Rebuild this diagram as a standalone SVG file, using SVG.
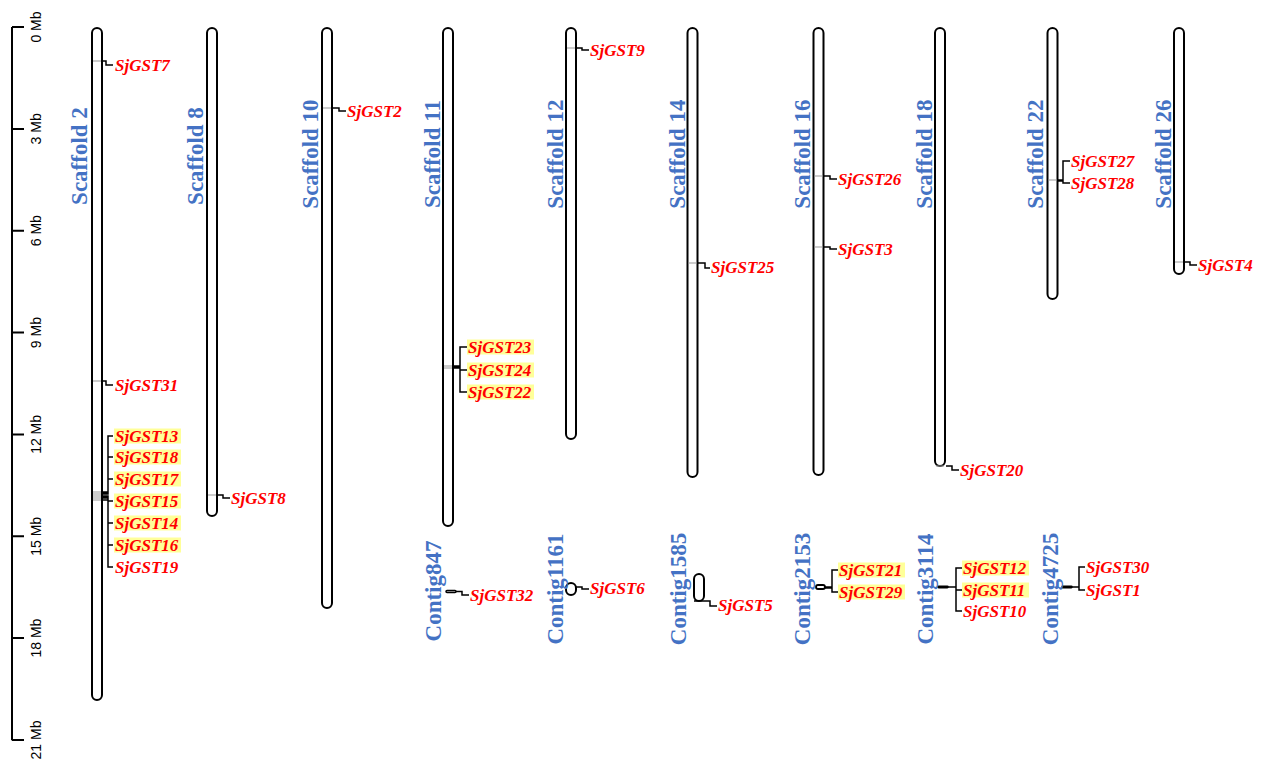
<svg xmlns="http://www.w3.org/2000/svg" width="1262" height="761" viewBox="0 0 1262 761">
<style>
.bg{fill:#fff}
.chr{fill:#fff;stroke:#000;stroke-width:2}
.gl{stroke:#999;stroke-width:1}
.cn{fill:none;stroke:#000;stroke-width:1.5}
.ax{fill:none;stroke:#000;stroke-width:2}
.gene{font-family:"Liberation Serif","Times New Roman",serif;font-size:17px;font-weight:bold;font-style:italic;fill:#FF0000}
.hl{fill:#FFFF99}
.lab{font-family:"Liberation Serif","Times New Roman",serif;font-size:23px;font-weight:bold;fill:#4472C4;text-anchor:middle}
.sc{font-family:"Liberation Sans",Arial,sans-serif;font-size:14px;fill:#000;text-anchor:middle}
</style>
<rect class="bg" x="0" y="0" width="1262" height="761"/>
<g id="scale">
<path class="ax" d="M12,27V740.3M12,27H24M12,128.9H24M12,230.7H24M12,332.6H24M12,434.4H24M12,536.3H24M12,638.1H24M12,740H24"/>
<text class="sc" transform="translate(41,27) rotate(-90)">0 Mb</text>
<text class="sc" transform="translate(41,128.9) rotate(-90)">3 Mb</text>
<text class="sc" transform="translate(41,230.7) rotate(-90)">6 Mb</text>
<text class="sc" transform="translate(41,332.6) rotate(-90)">9 Mb</text>
<text class="sc" transform="translate(41,434.4) rotate(-90)">12 Mb</text>
<text class="sc" transform="translate(41,536.3) rotate(-90)">15 Mb</text>
<text class="sc" transform="translate(41,638.1) rotate(-90)">18 Mb</text>
<text class="sc" transform="translate(41,740) rotate(-90)">21 Mb</text>
</g>
<g id="scaffold2"><rect class="chr" x="92" y="28" width="10" height="672" rx="5"/><text class="lab" transform="translate(87,156) rotate(-90)">Scaffold 2</text></g>
<g id="scaffold8"><rect class="chr" x="207" y="28" width="10" height="488" rx="5"/><text class="lab" transform="translate(203,156) rotate(-90)">Scaffold 8</text></g>
<g id="scaffold10"><rect class="chr" x="322" y="28" width="10" height="580" rx="5"/><text class="lab" transform="translate(318,154) rotate(-90)">Scaffold 10</text></g>
<g id="scaffold11"><rect class="chr" x="443" y="28" width="10" height="498" rx="5"/><text class="lab" transform="translate(440,154) rotate(-90)">Scaffold 11</text></g>
<g id="scaffold12"><rect class="chr" x="566" y="28" width="10" height="411" rx="5"/><text class="lab" transform="translate(563,154) rotate(-90)">Scaffold 12</text></g>
<g id="scaffold14"><rect class="chr" x="687.5" y="28" width="10" height="449" rx="5"/><text class="lab" transform="translate(685,154) rotate(-90)">Scaffold 14</text></g>
<g id="scaffold16"><rect class="chr" x="813.5" y="28" width="10" height="447" rx="5"/><text class="lab" transform="translate(810,154) rotate(-90)">Scaffold 16</text></g>
<g id="scaffold18"><rect class="chr" x="935" y="28" width="10" height="438" rx="5"/><text class="lab" transform="translate(932,154) rotate(-90)">Scaffold 18</text></g>
<g id="scaffold22"><rect class="chr" x="1047.5" y="28" width="10" height="271" rx="5"/><text class="lab" transform="translate(1043,154) rotate(-90)">Scaffold 22</text></g>
<g id="scaffold26"><rect class="chr" x="1174" y="28" width="10" height="246" rx="5"/><text class="lab" transform="translate(1171,154) rotate(-90)">Scaffold 26</text></g>
<g id="contig847"><rect class="chr" x="446" y="590.5" width="10" height="2" rx="1" style="stroke-width:1.5"/><text class="lab" transform="translate(441,591) rotate(-90)">Contig847</text></g>
<g id="contig1161"><rect class="chr" x="566" y="583" width="10" height="12" rx="5"/><text class="lab" transform="translate(563,589) rotate(-90)">Contig1161</text></g>
<g id="contig1585"><rect class="chr" x="694" y="574" width="10" height="27" rx="5"/><text class="lab" transform="translate(686,589) rotate(-90)">Contig1585</text></g>
<g id="contig2153"><rect class="chr" x="816" y="585" width="9" height="4" rx="2" style="stroke-width:1.8"/><text class="lab" transform="translate(810,589) rotate(-90)">Contig2153</text></g>
<g id="contig3114"><rect class="chr" x="938" y="586.3" width="10" height="1.4" rx="0.7" style="stroke-width:1.5"/><text class="lab" transform="translate(933,589) rotate(-90)">Contig3114</text></g>
<g id="contig4725"><rect class="chr" x="1062" y="586.3" width="10" height="1.4" rx="0.7" style="stroke-width:1.5"/><text class="lab" transform="translate(1058,589) rotate(-90)">Contig4725</text></g>
<g id="connectors">
<path class="gl" d="M93,61H101M93,381H101M93,492H101M93,494H101M93,496H101M93,498H101M93,500H101M208,495H216M323,108H331M444,366H452M444,368H452M567,48H575M688.5,263H696.5M814.5,176H822.5M814.5,247H822.5M936,466H944M1048.5,180H1056.5M1175,262H1183"/>
<path class="cn" d="M102,61H106V65H113M102,381H106V385H113M102,492H108V436H113M102,493H108V457H113M102,494H108V479H113M102,496H108V501H113M102,497H108V523H113M102,498H108V545H113M102,500H108V567H113"/>
<path class="cn" d="M217,495H223V498H230M333,108H339V111H346M454,366H460V347H467M454,367H460V370H467M454,368H460V392H467M576,48H582V50H589M698,263H705V268H710M824,176H830V179H837M824,247H830V249H837M946,466H952V470H959M1057,180H1063V161H1070M1057,181H1063V183H1070M1184,262H1190V265H1197"/>
<path class="cn" d="M456,591.5H462V595H469M576,587H582V589H589M694,601H710V606H717M825,587H832V570H838M825,588H832V592H838M948,587H956V568H962M948,587H956V590H962M948,587H956V611H962M1072,587H1079V567H1085M1072,587H1079V590H1085"/>
</g>
<g id="genes">
<g id="SjGST7"><text class="gene" x="115" y="71">SjGST7</text></g>
<g id="SjGST31"><text class="gene" x="115" y="391">SjGST31</text></g>
<g id="SjGST13"><rect class="hl" x="114" y="428.5" width="67" height="15"/><text class="gene" x="115" y="442">SjGST13</text></g>
<g id="SjGST18"><rect class="hl" x="114" y="449.5" width="67" height="15"/><text class="gene" x="115" y="463">SjGST18</text></g>
<g id="SjGST17"><rect class="hl" x="114" y="471.5" width="67" height="15"/><text class="gene" x="115" y="485">SjGST17</text></g>
<g id="SjGST15"><rect class="hl" x="114" y="493.5" width="67" height="15"/><text class="gene" x="115" y="507">SjGST15</text></g>
<g id="SjGST14"><rect class="hl" x="114" y="515.5" width="67" height="15"/><text class="gene" x="115" y="529">SjGST14</text></g>
<g id="SjGST16"><rect class="hl" x="114" y="537.5" width="67" height="15"/><text class="gene" x="115" y="551">SjGST16</text></g>
<g id="SjGST19"><text class="gene" x="115" y="573">SjGST19</text></g>
<g id="SjGST8"><text class="gene" x="231" y="504">SjGST8</text></g>
<g id="SjGST2"><text class="gene" x="347" y="117">SjGST2</text></g>
<g id="SjGST23"><rect class="hl" x="467" y="339.5" width="67" height="15"/><text class="gene" x="468" y="353">SjGST23</text></g>
<g id="SjGST24"><rect class="hl" x="467" y="362.5" width="67" height="15"/><text class="gene" x="468" y="376">SjGST24</text></g>
<g id="SjGST22"><rect class="hl" x="467" y="384.5" width="67" height="15"/><text class="gene" x="468" y="398">SjGST22</text></g>
<g id="SjGST9"><text class="gene" x="590" y="56">SjGST9</text></g>
<g id="SjGST25"><text class="gene" x="711" y="273">SjGST25</text></g>
<g id="SjGST26"><text class="gene" x="838" y="185">SjGST26</text></g>
<g id="SjGST3"><text class="gene" x="838" y="255">SjGST3</text></g>
<g id="SjGST20"><text class="gene" x="960" y="476">SjGST20</text></g>
<g id="SjGST27"><text class="gene" x="1071" y="167">SjGST27</text></g>
<g id="SjGST28"><text class="gene" x="1071" y="189">SjGST28</text></g>
<g id="SjGST4"><text class="gene" x="1198" y="271">SjGST4</text></g>
<g id="SjGST32"><text class="gene" x="470" y="601">SjGST32</text></g>
<g id="SjGST6"><text class="gene" x="590" y="594">SjGST6</text></g>
<g id="SjGST5"><text class="gene" x="718" y="611">SjGST5</text></g>
<g id="SjGST21"><rect class="hl" x="838" y="562.5" width="67" height="15"/><text class="gene" x="839" y="576">SjGST21</text></g>
<g id="SjGST29"><rect class="hl" x="838" y="584.5" width="67" height="15"/><text class="gene" x="839" y="598">SjGST29</text></g>
<g id="SjGST12"><rect class="hl" x="962" y="560.5" width="67" height="15"/><text class="gene" x="963" y="574">SjGST12</text></g>
<g id="SjGST11"><rect class="hl" x="962" y="582.5" width="67" height="15"/><text class="gene" x="963" y="596">SjGST11</text></g>
<g id="SjGST10"><text class="gene" x="963" y="617">SjGST10</text></g>
<g id="SjGST30"><text class="gene" x="1086" y="573">SjGST30</text></g>
<g id="SjGST1"><text class="gene" x="1086" y="596">SjGST1</text></g>
</g>
</svg>
